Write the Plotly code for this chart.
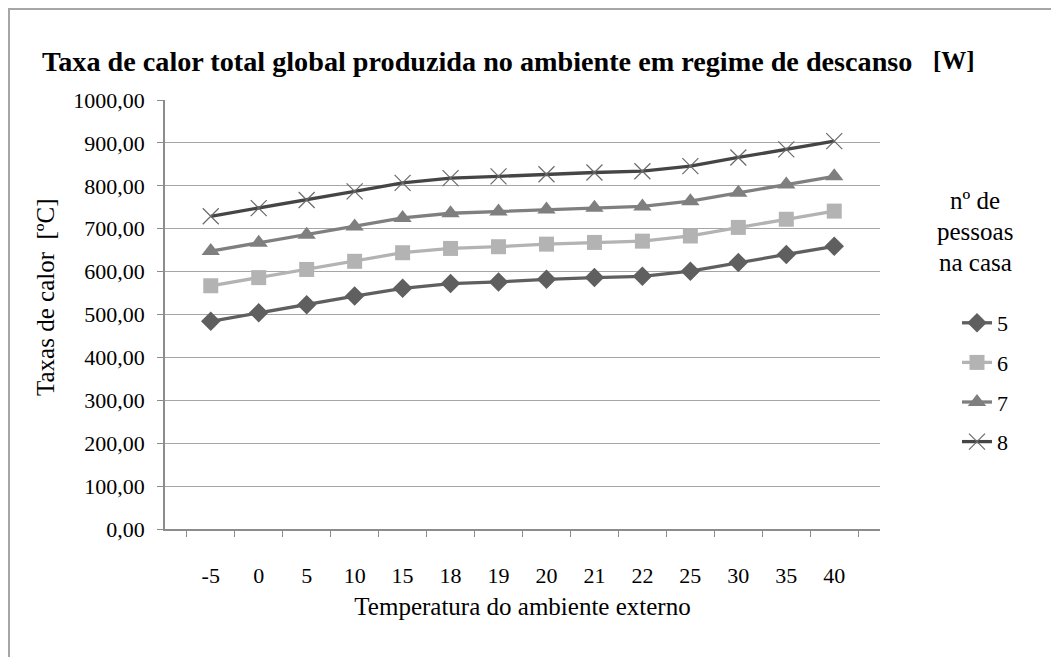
import plotly.graph_objects as go

temperaturas = ["-5", "0", "5", "10", "15", "18", "19", "20", "21", "22", "25", "30", "35", "40"]
pessoas_5 = [484, 504, 523, 543, 561, 572, 576, 582, 586, 589, 601, 621, 640, 659]
pessoas_6 = [567, 586, 605, 624, 644, 654, 658, 664, 668, 671, 683, 703, 722, 741]
pessoas_7 = [648, 667, 686, 705, 725, 736, 740, 745, 749, 752, 764, 784, 803, 822]
pessoas_8 = [729, 748, 767, 787, 807, 818, 822, 827, 831, 834, 846, 866, 885, 904]
y_ticks = [0, 100, 200, 300, 400, 500, 600, 700, 800, 900, 1000]
y_tick_labels = ["0,00", "100,00", "200,00", "300,00", "400,00", "500,00", "600,00",
                 "700,00", "800,00", "900,00", "1000,00"]
legend_title_lines = ["nº de", "pessoas", "na casa"]

FONT = "Liberation Serif"

series = [
    ("5", pessoas_5, "#5f5f5f", dict(symbol="diamond", size=15, color="#5f5f5f")),
    ("6", pessoas_6, "#b3b3b3", dict(symbol="square", size=15, color="#b3b3b3")),
    ("7", pessoas_7, "#7f7f7f", dict(symbol="triangle-up", size=16, color="#7f7f7f")),
    ("8", pessoas_8, "#454545", dict(symbol="x-thin", size=16, color="#6a6a6a",
                                     line=dict(color="#6a6a6a", width=1.2))),
]

fig = go.Figure()
for name, vals, col, mk in series:
    fig.add_trace(go.Scatter(
        x=temperaturas, y=vals, name=name, mode="lines+markers",
        line=dict(color=col, width=3.3), marker=mk, legendgroup=name,
    ))

# page is offset by the 8px body margin
OFF = 8
W, H = 1059, 657
L, T = 165 - OFF, 100 - OFF
R = W - (880 - OFF)
B = H - (529 - OFF)
pw, ph = W - L - R, H - T - B

def px_x(p):
    return (p - OFF - L) / pw

def px_y(p):
    return (H - B - (p - OFF)) / ph

annotations = [
    dict(text="<b>Taxa de calor total global produzida no ambiente em regime de descanso</b>",
         xref="paper", yref="paper", x=px_x(40), y=px_y(62), xanchor="left", yanchor="middle",
         showarrow=False, font=dict(family=FONT, size=28.2, color="#000000")),
    dict(text="<b>[W]</b>",
         xref="paper", yref="paper", x=px_x(977), y=px_y(60), xanchor="right", yanchor="middle",
         showarrow=False, font=dict(family=FONT, size=25, color="#000000")),
    dict(text="Taxas de calor  [ºC]", textangle=-90,
         xref="paper", yref="paper", x=px_x(45), y=px_y(297), xanchor="center", yanchor="middle",
         showarrow=False, font=dict(family=FONT, size=25, color="#000000")),
]
for i, line in enumerate(legend_title_lines):
    annotations.append(dict(
        text=line, xref="paper", yref="paper", x=px_x(975), y=px_y(200 + 31 * i),
        xanchor="center", yanchor="middle", showarrow=False,
        font=dict(family=FONT, size=25, color="#000000")))

fig.update_layout(
    width=W, height=H,
    margin=dict(l=L, r=R, t=T, b=B, autoexpand=False),
    paper_bgcolor="white", plot_bgcolor="white",
    font=dict(family=FONT, size=22, color="#000000"),
    showlegend=True,
    legend=dict(
        x=px_x(957), y=px_y(302), xanchor="left", yanchor="top",
        font=dict(family=FONT, size=22, color="#000000"),
        tracegroupgap=8, bgcolor="rgba(0,0,0,0)",
        itemclick=False,
    ),
    xaxis=dict(
        type="category", categoryorder="array", categoryarray=temperaturas,
        showline=True, linecolor="#8c8c8c", linewidth=1.5,
        ticks="outside", ticklen=6, tickcolor="#8c8c8c", tickson="boundaries",
        showgrid=False, zeroline=False,
        tickfont=dict(family=FONT, size=22), ticklabelstandoff=26,
        title=dict(text="Temperatura do ambiente externo",
                   font=dict(family=FONT, size=25), standoff=10),
    ),
    yaxis=dict(
        range=[0, 1000], tickvals=y_ticks, ticktext=y_tick_labels,
        showline=True, linecolor="#8c8c8c", linewidth=1.5,
        ticks="outside", ticklen=6, tickcolor="#8c8c8c",
        showgrid=True, gridcolor="#a6a6a6", gridwidth=1.2, zeroline=False,
        tickfont=dict(family=FONT, size=22), ticklabelstandoff=8,
    ),
    annotations=annotations,
    shapes=[
        dict(type="rect", xref="paper", yref="paper",
             x0=px_x(9), y0=px_y(720), x1=px_x(1120), y1=px_y(9),
             line=dict(color="#a6a6a6", width=2), fillcolor="rgba(0,0,0,0)", layer="below"),
    ],
)

fig.write_html("out.html")
